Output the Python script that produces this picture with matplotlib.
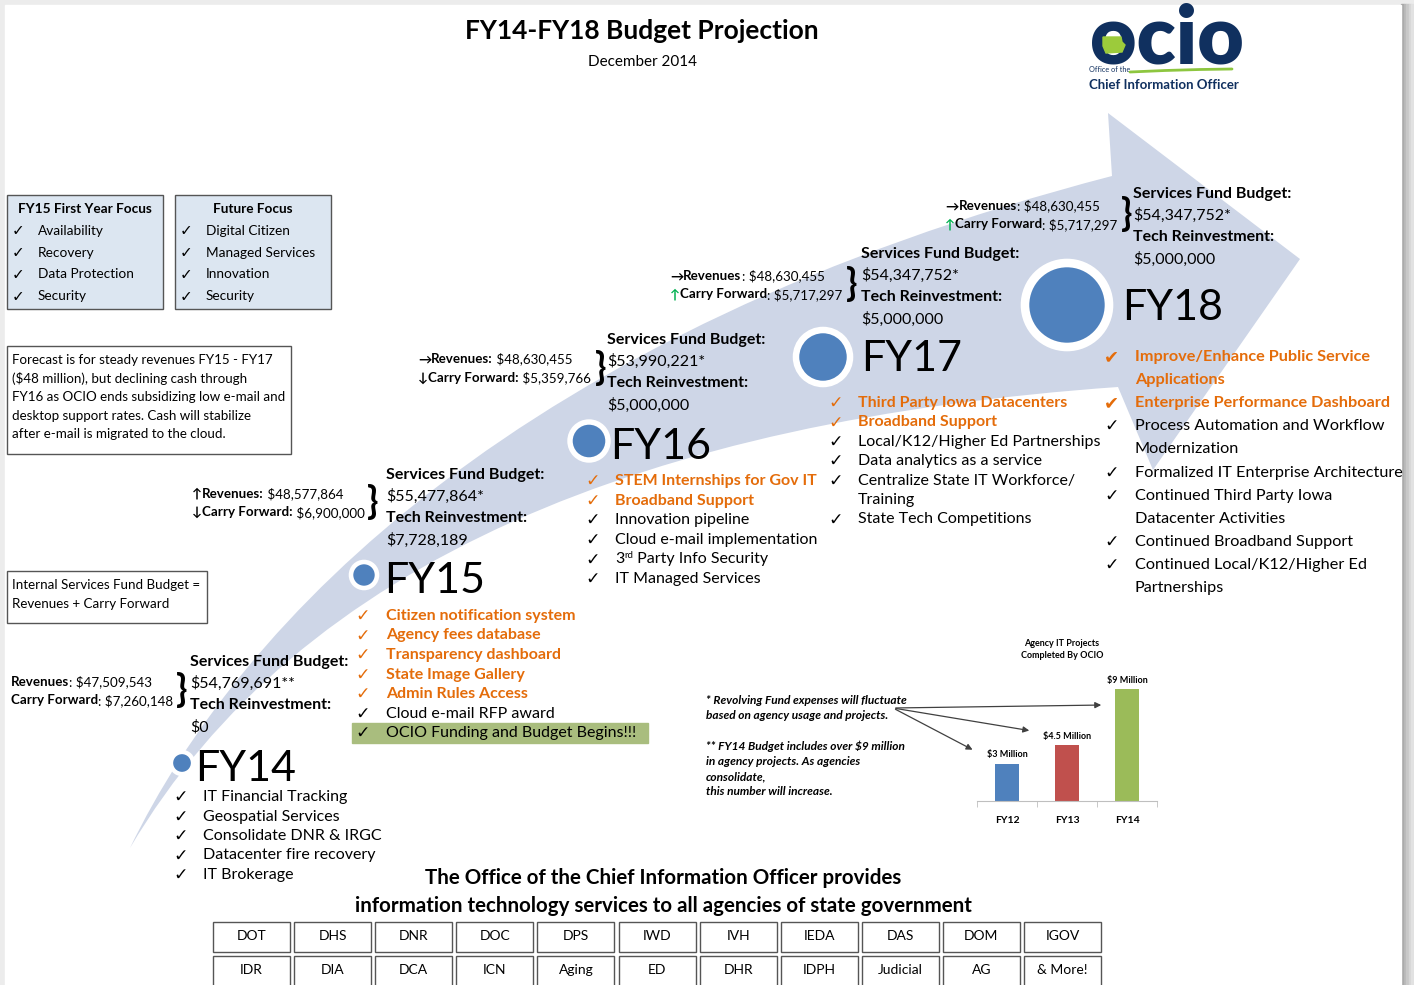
import matplotlib
matplotlib.use('Agg')
import matplotlib.pyplot as plt
from matplotlib.patches import Rectangle, Circle, PathPatch, Polygon
from matplotlib.path import Path

fy_labels = ['FY14', 'FY15', 'FY16', 'FY17', 'FY18']
revenues = ['$47,509,543', '$48,577,864', '$48,630,455', '$48,630,455', '$48,630,455']
carry_forward = ['$7,260,148', '$6,900,000', '$5,359,766', '$5,717,297', '$5,717,297']
rev_arrow = ['', '\u2191', '\u2192', '\u2192', '\u2192']
cf_arrow = ['', '\u2193', '\u2193', '\u2191', '\u2191']
fund_budget = ['$54,769,691**', '$55,477,864*', '$53,990,221*', '$54,347,752*', '$54,347,752*']
tech_reinvest = ['$0', '$7,728,189', '$5,000,000', '$5,000,000', '$5,000,000']

# o = orange highlight, k = black, c = continuation line (no check)
fy14_items = [('IT Financial Tracking', 'k'), ('Geospatial Services', 'k'),
              ('Consolidate DNR & IRGC', 'k'), ('Datacenter fire recovery', 'k'),
              ('IT Brokerage', 'k')]
fy15_items = [('Citizen notification system', 'o'), ('Agency fees database', 'o'),
              ('Transparency dashboard', 'o'), ('State Image Gallery', 'o'),
              ('Admin Rules Access', 'o'), ('Cloud e-mail RFP award', 'k'),
              ('OCIO Funding and Budget Begins!!!', 'k')]
fy16_items = [('STEM Internships for Gov IT', 'o'), ('Broadband Support', 'o'),
              ('Innovation pipeline', 'k'), ('Cloud e-mail implementation', 'k'),
              ('3rd Party Info Security', 'k'), ('IT Managed Services', 'k')]
fy17_items = [('Third Party Iowa Datacenters', 'o'), ('Broadband Support', 'o'),
              ('Local/K12/Higher Ed Partnerships', 'k'), ('Data analytics as a service', 'k'),
              ('Centralize State IT Workforce/', 'k'), ('Training', 'c'),
              ('State Tech Competitions', 'k')]
fy18_items = [('Improve/Enhance Public Service', 'o'), ('Applications', 'oc'),
              ('Enterprise Performance Dashboard', 'o'), ('Process Automation and Workflow', 'k'),
              ('Modernization', 'c'), ('Formalized IT Enterprise Architecture', 'k'),
              ('Continued Third Party Iowa', 'k'), ('Datacenter Activities', 'c'),
              ('Continued Broadband Support', 'k'), ('Continued Local/K12/Higher Ed', 'k'),
              ('Partnerships', 'c')]
fy_items = [fy14_items, fy15_items, fy16_items, fy17_items, fy18_items]

first_year_focus = ['Availability', 'Recovery', 'Data Protection', 'Security']
future_focus = ['Digital Citizen', 'Managed Services', 'Innovation', 'Security']
forecast_note = ['Forecast is for steady revenues FY15 - FY17',
                 '($48 million), but declining cash through',
                 'FY16 as OCIO ends subsidizing low e-mail and',
                 'desktop support rates. Cash will stabilize',
                 'after e-mail is migrated to the cloud.']
fund_note = ['Internal Services Fund Budget =', 'Revenues + Carry Forward']
footnotes = ['* Revolving Fund expenses will fluctuate', 'based on agency usage and projects.', '',
             '** FY14 Budget includes over $9 million', 'in agency projects. As agencies',
             'consolidate,', 'this number will increase.']

proj_years = ['FY12', 'FY13', 'FY14']
proj_values = [3, 4.5, 9]   # $ million
proj_labels = ['$3 Million', '$4.5 Million', '$9 Million']

agencies_row1 = ['DOT', 'DHS', 'DNR', 'DOC', 'DPS', 'IWD', 'IVH', 'IEDA', 'DAS', 'DOM', 'IGOV']
agencies_row2 = ['IDR', 'DIA', 'DCA', 'ICN', 'Aging', 'ED', 'DHR', 'IDPH', 'Judicial', 'AG', '& More!']

#------------layout (pixels, y down)-------------
layout = [
    dict(cx=182, cy=763, r=11, lx=195, lb=781, rx=11, ry=682, bx=182, fx=190, fy=662, kx=173, ix=203, iy=797, st=19.5),
    dict(cx=364, cy=575, r=13, lx=384, lb=593, rx=192, ry=494, bx=373, fx=386, fy=475, kx=355, ix=386, iy=616, st=19.5),
    dict(cx=589, cy=441, r=19, lx=610, lb=459, rx=418, ry=359, bx=601, fx=607, fy=340, kx=585, ix=615, iy=481, st=19.6),
    dict(cx=823, cy=357, r=27, lx=861, lb=371, rx=670, ry=276, bx=852, fx=861, fy=254, kx=828, ix=858, iy=403, st=19.4),
    dict(cx=1067, cy=305, r=42, lx=1122, lb=320, rx=945, ry=206, bx=1127, fx=1133, fy=194, kx=1104, ix=1135, iy=357, st=23.1),
]

FONT = ['Lato', 'DejaVu Sans']
ORANGE = '#e46c0a'
NAVY = '#10305f'

fig = plt.figure(figsize=(14.14, 9.85), dpi=100)
ax = fig.add_axes([0, 0, 1, 1])
ax.set_xlim(0, 1414)
ax.set_ylim(985, 0)
ax.axis('off')


def put(x, y, s, size=11, weight='normal', color='black', ha='left', va='center', style='normal', fam=None):
    return ax.text(x, y, s, fontsize=size, fontweight=weight, color=color, ha=ha, va=va,
                   fontstyle=style, family=fam or FONT, zorder=5)


def after(prev, s, size=11, weight='normal', color='black', dy=0.5, ycoord=None):
    return ax.annotate(s, xy=(1, dy), xycoords=(prev, ycoord or prev), ha='left', va='center',
                       fontsize=size, fontweight=weight, color=color, family=FONT, zorder=5)


#------------page and shadow-------------
ax.add_patch(Rectangle((0, 0), 1414, 985, color='#ececec', zorder=0))
for i, c in enumerate(['#a8a8a8', '#b8b8b8', '#c8c8c8', '#d6d6d6', '#e2e2e2']):
    ax.add_patch(Rectangle((1401 + i * 2.5, 4), 2.5, 985, color=c, zorder=0))
ax.add_patch(Rectangle((5, 5), 1396, 985, color='white', zorder=0))

#------------curved arrow band-------------
verts = [(130, 848), (240, 620), (520, 330), (1112, 176),
         (1108, 113), (1300, 259), (1153, 470), (1118, 387),
         (650, 420), (300, 560), (130, 848), (130, 848)]
codes = [Path.MOVETO, Path.CURVE4, Path.CURVE4, Path.CURVE4,
         Path.LINETO, Path.LINETO, Path.LINETO, Path.LINETO,
         Path.CURVE4, Path.CURVE4, Path.CURVE4, Path.CLOSEPOLY]
ax.add_patch(PathPatch(Path(verts, codes), facecolor='#ced6e7', edgecolor='none', zorder=1))

#------------title and logo-------------
put(642, 31, 'FY14-FY18 Budget Projection', size=19, weight='bold', ha='center')
put(642, 62, 'December 2014', size=11, ha='center')

put(1167, 63, 'ocio', size=58, weight='heavy', color=NAVY, ha='center', va='baseline')
ax.add_patch(Polygon([(1103, 37), (1121, 37), (1122, 42), (1125, 45), (1122, 52), (1106, 53), (1103, 46)],
                     closed=True, color='#9ccb3b', zorder=6))
put(1089, 70, 'Office of the', size=5.3, color=NAVY)
ax.plot([1130, 1165, 1200, 1232], [72, 70.5, 69.5, 69], color='#8dc63f', lw=2, solid_capstyle='round', zorder=5)
put(1089, 85, 'Chief Information Officer', size=9.5, weight='bold', color=NAVY)

#------------focus boxes-------------
for bx, head, items in [(7, 'FY15 First Year Focus', first_year_focus), (175, 'Future Focus', future_focus)]:
    ax.add_patch(Rectangle((bx, 195), 156, 114, facecolor='#dce6f1', edgecolor='#555555', lw=1, zorder=2))
    put(bx + 78, 209, head, size=9.8, weight='bold', ha='center')
    for k, item in enumerate(items):
        put(bx + 5, 231 + k * 21.7, '\u2713', size=11, fam='DejaVu Sans')
        put(bx + 31, 231 + k * 21.7, item, size=9.8)

ax.add_patch(Rectangle((7, 346), 284, 108, facecolor='white', edgecolor='#555555', lw=1, zorder=2))
for k, line in enumerate(forecast_note):
    put(12, 360 + k * 18.6, line, size=9.6)

ax.add_patch(Rectangle((7, 571), 200, 52, facecolor='white', edgecolor='#555555', lw=1, zorder=2))
for k, line in enumerate(fund_note):
    put(12, 585 + k * 19, line, size=9.6)

#------------fiscal year blocks-------------
for i, L in enumerate(layout):
    ax.add_patch(Circle((L['cx'], L['cy']), L['r'], facecolor='#4f81bd', edgecolor='white',
                        lw=2 + L['r'] / 10, zorder=3))
    put(L['lx'], L['lb'], fy_labels[i], size=31, va='baseline')

    # revenue / carry forward
    for j, (arrow, name, val) in enumerate([(rev_arrow[i], 'Revenues', revenues[i]),
                                            (cf_arrow[i], 'Carry Forward', carry_forward[i])]):
        y = L['ry'] + j * 18.5
        acol = '#00b050' if (arrow == '\u2191' and j == 1) else 'black'
        t = put(L['rx'], y, arrow if arrow else '', size=9.6, weight='bold', color=acol)
        if i in (1, 2):
            t = after(t, name + ':', size=9.6, weight='bold')
            after(t, ' ' + val, size=9.6)
        else:
            t = after(t, name, size=9.6, weight='bold')
            after(t, ': ' + val, size=9.6)
    put(L['bx'], L['ry'] + 8.5, '}', size=27, ha='center', weight='bold')

    # budget block
    put(L['fx'], L['fy'], 'Services Fund Budget:', size=11.5, weight='bold')
    put(L['fx'], L['fy'] + 21.7, fund_budget[i], size=11.5)
    put(L['fx'], L['fy'] + 43.4, 'Tech Reinvestment:', size=11.5, weight='bold')
    put(L['fx'], L['fy'] + 65.1, tech_reinvest[i], size=11.5)

    # item list
    isize = 11.7 if i == 4 else 11.5
    for k, (item, kind) in enumerate(fy_items[i]):
        y = L['iy'] + k * L['st']
        col = ORANGE if kind.startswith('o') else 'black'
        wt = 'bold' if kind.startswith('o') else 'normal'
        if item.startswith('OCIO Funding'):
            ax.add_patch(Rectangle((352, y - 10), 296, 20, color='#a9bd7e', zorder=2))
        if kind in ('o', 'k'):
            heavy = i == 4 and kind == 'o'
            mark = '\u2714' if heavy else '\u2713'
            put(L['kx'], y, mark, size=13 if heavy else 12.5, color=col, fam='DejaVu Sans')
        if item.startswith('3rd'):
            t = put(L['ix'], y, '3', size=isize)
            s = after(t, 'rd', size=7, dy=0.8)
            after(s, ' Party Info Security', size=isize, ycoord=t)
        else:
            put(L['ix'], y, item, size=isize, weight=wt, color=col)

#------------footnotes and project chart-------------
for k, line in enumerate(footnotes):
    if line:
        put(706, 700 + k * 15.3, line, size=8.6, weight='bold', style='italic')
for tx, ty in [(1104, 705), (1032, 731), (975, 751)]:
    ax.annotate('', xy=(tx, ty), xytext=(893, 708),
                arrowprops=dict(arrowstyle='-|>', color='#404040', lw=0.9, mutation_scale=9), zorder=5)

put(1062, 643, 'Agency IT Projects', size=6.5, weight='bold', ha='center')
put(1062, 656, 'Completed By OCIO', size=6.5, weight='bold', ha='center')

bx = fig.add_axes([977 / 1414, 1 - 801 / 985, 180 / 1414, 112 / 985])
bx.patch.set_alpha(0)
xs = range(len(proj_years))
bx.bar(xs, proj_values, width=0.4, color=['#4f81bd', '#c0504d', '#9bbb59'])
for x, v, lab in zip(xs, proj_values, proj_labels):
    bx.text(x, v + 0.35, lab, ha='center', va='bottom', fontsize=6.5, fontweight='bold', family=FONT)
bx.set_xlim(-0.5, 2.5)
bx.set_ylim(0, 9)
bx.set_yticks([])
for sp in ['top', 'left', 'right']:
    bx.spines[sp].set_visible(False)
bx.spines['bottom'].set_color('#bfbfbf')
bx.set_xticks(list(xs))
bx.set_xticklabels(proj_years, fontsize=7.5, fontweight='bold', family=FONT)
bx.tick_params(axis='x', length=0, pad=11)
bx.set_xticks([-0.5, 0.5, 1.5, 2.5], minor=True)
bx.tick_params(axis='x', which='minor', length=4, color='#bfbfbf')

#------------bottom agency table-------------
put(663, 878, 'The Office of the Chief Information Officer provides', size=14.8, weight='bold', ha='center')
put(663, 906, 'information technology services to all agencies of state government', size=14.8, weight='bold', ha='center')
for r, row in enumerate([agencies_row1, agencies_row2]):
    for c, name in enumerate(row):
        x0 = 213 + c * 81.1
        y0 = 922 + r * 34
        ax.add_patch(Rectangle((x0, y0), 77, 30, facecolor='white', edgecolor='#555555', lw=1, zorder=2))
        put(x0 + 38.5, y0 + 14.5, name, size=10, ha='center')

fig.savefig('out.png', dpi=100)
